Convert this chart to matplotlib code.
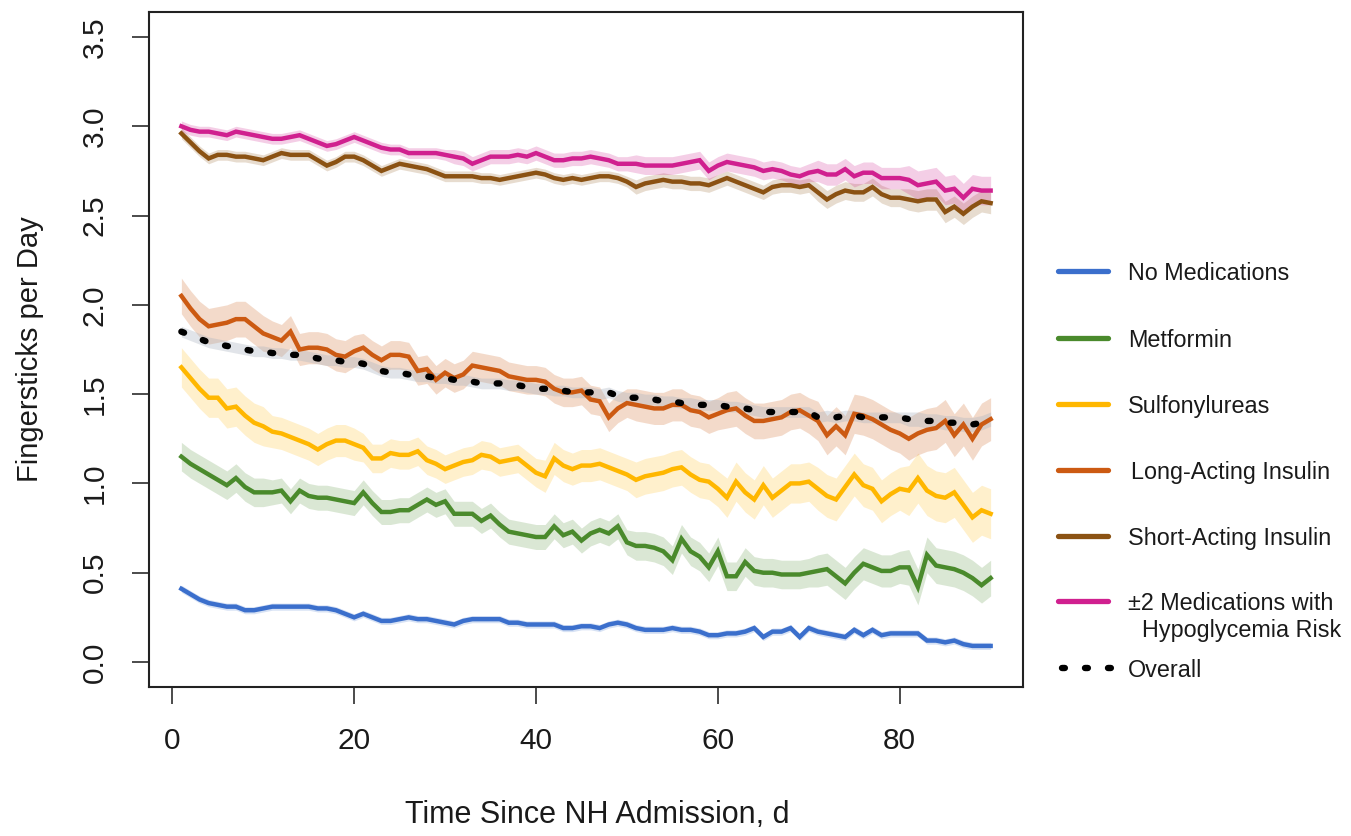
"""
Fingersticks per day by medication group, first 90 days after NH admission
R-style line chart with confidence bands, legend outside on the right
"""
import matplotlib
matplotlib.use('Agg')
import matplotlib.pyplot as plt
from matplotlib.lines import Line2D
import numpy as np

plt.rcParams['font.family'] = ['Liberation Sans', 'DejaVu Sans']

# ── Data ──────────────────────────────────────────────────
days = np.arange(1, 91)

no_meds = [0.41, 0.38, 0.35, 0.33, 0.32, 0.31, 0.31, 0.29, 0.29, 0.30,
           0.31, 0.31, 0.31, 0.31, 0.31, 0.30, 0.30, 0.29, 0.27, 0.25,
           0.27, 0.25, 0.23, 0.23, 0.24, 0.25, 0.24, 0.24, 0.23, 0.22,
           0.21, 0.23, 0.24, 0.24, 0.24, 0.24, 0.22, 0.22, 0.21, 0.21,
           0.21, 0.21, 0.19, 0.19, 0.20, 0.20, 0.19, 0.21, 0.22, 0.21,
           0.19, 0.18, 0.18, 0.18, 0.19, 0.18, 0.18, 0.17, 0.15, 0.15,
           0.16, 0.16, 0.17, 0.19, 0.14, 0.17, 0.17, 0.19, 0.14, 0.19,
           0.17, 0.16, 0.15, 0.14, 0.18, 0.15, 0.18, 0.15, 0.16, 0.16,
           0.16, 0.16, 0.12, 0.12, 0.11, 0.12, 0.10, 0.09, 0.09, 0.09]

metformin = [1.15, 1.11, 1.08, 1.05, 1.02, 0.99, 1.03, 0.98, 0.95, 0.95,
             0.95, 0.96, 0.90, 0.96, 0.93, 0.92, 0.92, 0.91, 0.90, 0.89,
             0.95, 0.89, 0.84, 0.84, 0.85, 0.85, 0.88, 0.91, 0.88, 0.90,
             0.83, 0.83, 0.83, 0.79, 0.82, 0.77, 0.73, 0.72, 0.71, 0.70,
             0.70, 0.76, 0.71, 0.73, 0.68, 0.72, 0.74, 0.72, 0.76, 0.67,
             0.65, 0.65, 0.64, 0.62, 0.57, 0.69, 0.62, 0.59, 0.53, 0.62,
             0.48, 0.48, 0.56, 0.51, 0.50, 0.50, 0.49, 0.49, 0.49, 0.50,
             0.51, 0.52, 0.48, 0.44, 0.50, 0.55, 0.53, 0.51, 0.51, 0.53,
             0.53, 0.42, 0.60, 0.54, 0.53, 0.52, 0.50, 0.47, 0.43, 0.47]

sulfonylureas = [1.65, 1.59, 1.53, 1.48, 1.48, 1.42, 1.43, 1.38, 1.34, 1.32,
                 1.29, 1.28, 1.26, 1.24, 1.22, 1.19, 1.22, 1.24, 1.24, 1.22,
                 1.20, 1.14, 1.14, 1.17, 1.16, 1.16, 1.18, 1.13, 1.11, 1.08,
                 1.10, 1.12, 1.13, 1.16, 1.15, 1.12, 1.13, 1.14, 1.10, 1.06,
                 1.04, 1.14, 1.10, 1.08, 1.10, 1.10, 1.11, 1.09, 1.07, 1.05,
                 1.02, 1.04, 1.05, 1.06, 1.08, 1.09, 1.05, 1.02, 1.01, 0.97,
                 0.92, 1.01, 0.95, 0.91, 0.99, 0.92, 0.96, 1.00, 1.00, 1.01,
                 0.97, 0.93, 0.91, 0.98, 1.05, 0.99, 0.97, 0.90, 0.94, 0.97,
                 0.96, 1.03, 0.96, 0.93, 0.92, 0.95, 0.88, 0.81, 0.85, 0.83]

long_insulin = [2.05, 1.98, 1.92, 1.88, 1.89, 1.90, 1.92, 1.92, 1.88, 1.84,
                1.82, 1.80, 1.85, 1.75, 1.76, 1.76, 1.75, 1.72, 1.71, 1.74,
                1.76, 1.72, 1.69, 1.72, 1.72, 1.71, 1.63, 1.64, 1.58, 1.62,
                1.59, 1.61, 1.66, 1.65, 1.64, 1.63, 1.60, 1.59, 1.58, 1.58,
                1.57, 1.53, 1.51, 1.51, 1.52, 1.47, 1.46, 1.37, 1.42, 1.45,
                1.44, 1.43, 1.42, 1.42, 1.44, 1.44, 1.41, 1.40, 1.37, 1.39,
                1.41, 1.42, 1.38, 1.35, 1.35, 1.36, 1.37, 1.40, 1.41, 1.38,
                1.35, 1.27, 1.32, 1.27, 1.39, 1.38, 1.36, 1.33, 1.30, 1.28,
                1.25, 1.28, 1.30, 1.31, 1.35, 1.27, 1.33, 1.25, 1.33, 1.36]

short_insulin = [2.96, 2.91, 2.86, 2.82, 2.84, 2.84, 2.83, 2.83, 2.82, 2.81,
                 2.83, 2.85, 2.84, 2.84, 2.84, 2.81, 2.78, 2.80, 2.83, 2.83,
                 2.81, 2.78, 2.75, 2.77, 2.79, 2.78, 2.77, 2.76, 2.74, 2.72,
                 2.72, 2.72, 2.72, 2.71, 2.71, 2.70, 2.71, 2.72, 2.73, 2.74,
                 2.73, 2.71, 2.70, 2.71, 2.70, 2.71, 2.72, 2.72, 2.71, 2.69,
                 2.66, 2.68, 2.69, 2.70, 2.69, 2.69, 2.68, 2.68, 2.67, 2.69,
                 2.71, 2.69, 2.67, 2.65, 2.63, 2.66, 2.67, 2.67, 2.66, 2.67,
                 2.63, 2.59, 2.62, 2.64, 2.63, 2.63, 2.66, 2.62, 2.60, 2.60,
                 2.59, 2.58, 2.59, 2.59, 2.52, 2.55, 2.51, 2.55, 2.58, 2.57]

two_meds = [3.00, 2.98, 2.97, 2.97, 2.96, 2.95, 2.97, 2.96, 2.95, 2.94,
            2.93, 2.93, 2.94, 2.95, 2.93, 2.91, 2.89, 2.90, 2.92, 2.94,
            2.92, 2.90, 2.88, 2.87, 2.87, 2.85, 2.85, 2.85, 2.85, 2.84,
            2.83, 2.82, 2.79, 2.81, 2.83, 2.83, 2.83, 2.84, 2.83, 2.85,
            2.83, 2.81, 2.81, 2.82, 2.82, 2.83, 2.82, 2.81, 2.79, 2.79,
            2.79, 2.78, 2.78, 2.78, 2.78, 2.79, 2.80, 2.81, 2.75, 2.78,
            2.80, 2.79, 2.78, 2.77, 2.75, 2.76, 2.75, 2.73, 2.72, 2.74,
            2.75, 2.73, 2.73, 2.76, 2.72, 2.74, 2.74, 2.71, 2.71, 2.71,
            2.70, 2.67, 2.68, 2.69, 2.64, 2.65, 2.60, 2.65, 2.64, 2.64]

overall = [1.85, 1.83, 1.81, 1.79, 1.78, 1.77, 1.76, 1.75, 1.74, 1.74,
           1.73, 1.73, 1.72, 1.72, 1.71, 1.70, 1.69, 1.69, 1.68, 1.68,
           1.67, 1.65, 1.63, 1.62, 1.62, 1.61, 1.60, 1.60, 1.59, 1.59,
           1.58, 1.58, 1.57, 1.56, 1.56, 1.56, 1.55, 1.55, 1.54, 1.53,
           1.53, 1.52, 1.52, 1.51, 1.51, 1.51, 1.50, 1.51, 1.49, 1.48,
           1.48, 1.47, 1.47, 1.46, 1.46, 1.45, 1.45, 1.44, 1.44, 1.44,
           1.43, 1.43, 1.42, 1.41, 1.40, 1.40, 1.40, 1.40, 1.40, 1.40,
           1.37, 1.38, 1.37, 1.38, 1.38, 1.37, 1.37, 1.37, 1.37, 1.37,
           1.36, 1.36, 1.35, 1.35, 1.34, 1.34, 1.33, 1.33, 1.34, 1.36]

# CI half-widths, one estimate per 10-day block
ci_no_meds       = [0.02, 0.02, 0.02, 0.02, 0.02, 0.02, 0.02, 0.02, 0.02]
ci_metformin     = [0.08, 0.07, 0.07, 0.07, 0.07, 0.08, 0.08, 0.09, 0.10]
ci_sulfonylureas = [0.11, 0.09, 0.08, 0.08, 0.09, 0.10, 0.11, 0.12, 0.14]
ci_long          = [0.10, 0.09, 0.08, 0.08, 0.08, 0.09, 0.10, 0.11, 0.12]
ci_short         = [0.03, 0.03, 0.03, 0.03, 0.03, 0.04, 0.04, 0.05, 0.06]
ci_two           = [0.03, 0.03, 0.03, 0.04, 0.04, 0.05, 0.05, 0.06, 0.08]
ci_overall       = [0.03, 0.03, 0.03, 0.03, 0.03, 0.03, 0.03, 0.03, 0.04]

labels = ["No Medications", "Metformin", "Sulfonylureas",
          "Long-Acting Insulin", "Short-Acting Insulin",
          "\u00b12 Medications with", "Overall"]

series = [
    (no_meds,       ci_no_meds,       '#3b6fcc', 0.20),
    (metformin,     ci_metformin,     '#4a8a2c', 0.20),
    (sulfonylureas, ci_sulfonylureas, '#ffb700', 0.20),
    (long_insulin,  ci_long,          '#cc5a12', 0.22),
    (short_insulin, ci_short,         '#8b5213', 0.20),
    (two_meds,      ci_two,           '#d0208f', 0.22),
]

# ── Figure ────────────────────────────────────────────────
W, H = 1351, 836
fig = plt.figure(figsize=(W / 100, H / 100), dpi=100)
fig.patch.set_facecolor('white')
ax = fig.add_axes([149 / W, 1 - 687 / H, (1023 - 149) / W, (687 - 12) / H])

txt = '#1a1a1a'
dot_style = (0, (0.45, 3.15))

for vals, ci, col, a in series:
    v = np.array(vals)
    hw = np.repeat(ci, 10)
    ax.fill_between(days, v - hw, v + hw, color=col, alpha=a, lw=0)

v = np.array(overall)
hw = np.repeat(ci_overall, 10)
ax.fill_between(days, v - hw, v + hw, color='#aab4c0', alpha=0.35, lw=0)

for vals, ci, col, a in series:
    ax.plot(days, vals, color=col, lw=3.2, solid_joinstyle='miter')

ax.plot(days, overall, color='black', lw=4.6,
        linestyle=dot_style, dash_capstyle='round')

ax.set_xlim(-2.56, 93.56)
ax.set_ylim(-0.14, 3.64)
ax.set_xticks([0, 20, 40, 60, 80])
ax.set_yticks([0.0, 0.5, 1.0, 1.5, 2.0, 2.5, 3.0, 3.5])
ax.set_yticklabels([f'{t:.1f}' for t in ax.get_yticks()],
                   rotation=90, va='center')
ax.tick_params(length=12, width=1.1, pad=17, labelsize=21.5,
               colors=txt, labelcolor=txt)
for s in ax.spines.values():
    s.set_linewidth(1.5)
    s.set_color('#222222')

ax.set_xlabel('Time Since NH Admission, d', fontsize=22, color=txt)
ax.xaxis.set_label_coords(0.513, -0.19)
ax.xaxis.label.set_va('center')
ax.set_ylabel('Fingersticks per Day', fontsize=21, color=txt)
ax.yaxis.set_label_coords(-0.136, 0.5)
ax.yaxis.label.set_va('center')

# ── Legend (outside, right) ───────────────────────────────
leg_rows = [271, 338, 404, 470, 536, 601, 668]
leg_cols = [c for _, _, c, _ in series] + ['black']
for lab, col, yp in zip(labels, leg_cols, leg_rows):
    yf = 1 - yp / H
    if lab == "Overall":
        fig.add_artist(Line2D([1062 / W, 1112 / W], [yf, yf], color=col,
                              lw=4.6, linestyle=dot_style,
                              dash_capstyle='round', transform=fig.transFigure))
    else:
        fig.add_artist(Line2D([1058 / W, 1108 / W], [yf, yf], color=col,
                              lw=3.8, solid_capstyle='round',
                              transform=fig.transFigure))
    xoff = 1131 if lab.startswith("Long") else 1128
    fig.text(xoff / W, 1 - (yp + 9) / H, lab, fontsize=16.8, color=txt,
             va='baseline', ha='left')
fig.text(1142 / W, 1 - (628 + 9) / H, "Hypoglycemia Risk", fontsize=16.8,
         color=txt, va='baseline', ha='left')

fig.savefig('out.png', dpi=100, facecolor='white')
